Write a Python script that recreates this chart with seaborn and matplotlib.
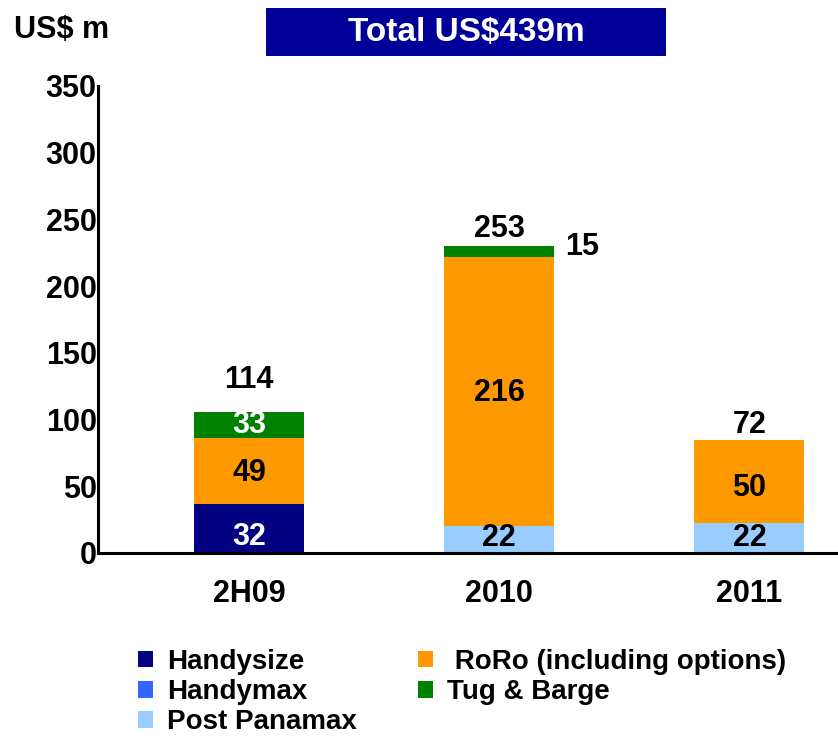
import numpy as np
import matplotlib
matplotlib.use('Agg')
import matplotlib.pyplot as plt
from matplotlib.patches import Patch, Rectangle
import seaborn as sns

# ── data (bar heights as drawn, labels as printed) ─────────────────────────
periods = ['2H09', '2010', '2011']
series = ['Handysize', 'Handymax', 'Post Panamax', ' RoRo (including options)', 'Tug & Barge']
colors = ['#000080', '#3366FF', '#99CCFF', '#FF9900', '#008000']

handysize = [37, 0, 0]
handymax = [0, 0, 0]
post_panamax = [0, 20, 22.5]
roro = [49, 202, 62]
tug_barge = [20, 8, 0]

handysize_lbl = ['32', '', '']
post_panamax_lbl = ['', '22', '22']
roro_lbl = ['49', '216', '50']
tug_barge_lbl = ['33', '', '']
total_lbl = ['114', '253', '72']
total = 'Total US$439m'

sns.set_theme(style='white')
plt.rcParams['font.family'] = ['Liberation Sans', 'DejaVu Sans']
plt.rcParams['font.weight'] = 'bold'
plt.rcParams['text.color'] = 'black'
plt.rcParams['xtick.color'] = 'black'
plt.rcParams['ytick.color'] = 'black'

fig = plt.figure(figsize=(8.38, 7.38), dpi=100)
ax = fig.add_axes([0.117, 0.2507, 0.883, 0.6328])

stack = [handysize, handymax, post_panamax, roro, tug_barge]
bottom = np.zeros(len(periods))
for vals, col in zip(stack, colors):
    sns.barplot(x=periods, y=vals, bottom=bottom, color=col, width=0.44,
                saturation=1, ax=ax, linewidth=0)
    bottom = bottom + np.array(vals)

ax.set_xlim(-0.604, 2.354)
ax.set_ylim(0, 350)
ax.set_yticks(range(0, 351, 50))
ax.tick_params(axis='both', length=0, labelsize=22)
ax.tick_params(axis='y', pad=1)
ax.tick_params(axis='x', pad=19)
for lab in ax.get_xticklabels() + ax.get_yticklabels():
    lab.set_fontweight('bold')
for side in ['top', 'right']:
    ax.spines[side].set_visible(False)
for side in ['left', 'bottom']:
    ax.spines[side].set_linewidth(2.2)
    ax.spines[side].set_color('black')

# segment labels (y positions tuned to the reference)
fs = 22
seg_y = {'hs': [12, 0, 0], 'pp': [0, 11, 11], 'ro': [60, 120, 49], 'tb': [96, 0, 0]}
for i in range(len(periods)):
    if handysize_lbl[i]:
        ax.text(i, seg_y['hs'][i], handysize_lbl[i], ha='center', va='center',
                color='white', fontsize=fs, fontweight='bold')
    if post_panamax_lbl[i]:
        ax.text(i, seg_y['pp'][i], post_panamax_lbl[i], ha='center', va='center',
                color='black', fontsize=fs, fontweight='bold')
    if roro_lbl[i]:
        ax.text(i, seg_y['ro'][i], roro_lbl[i], ha='center', va='center',
                color='black', fontsize=fs, fontweight='bold')
    if tug_barge_lbl[i]:
        ax.text(i, seg_y['tb'][i], tug_barge_lbl[i], ha='center', va='center',
                color='white', fontsize=fs, fontweight='bold')

tot_y = [130, 243, 96]
for i, t in enumerate(total_lbl):
    ax.text(i, tot_y[i], t, ha='center', va='center', fontsize=fs, fontweight='bold')
# 2010 tug & barge value sits to the right of the bar
ax.text(1.33, 229, '15', ha='center', va='center', fontsize=fs, fontweight='bold')

# unit label and total box
fig.text(14 / 838, 1 - 30 / 738, 'US$ m', ha='left', va='center', fontsize=22,
         fontweight='bold')
fig.patches.append(Rectangle((266 / 838, 1 - 56 / 738), 400 / 838, 48 / 738,
                             transform=fig.transFigure, facecolor='#000099',
                             edgecolor='none'))
fig.text(466 / 838, 1 - 33 / 738, total, ha='center', va='center', fontsize=24,
         fontweight='bold', color='white')

# legend
handles = [Patch(facecolor=c, edgecolor='none', label=s) for s, c in zip(series, colors)]
fig.legend(handles=handles, ncol=2, loc='upper left',
           bbox_to_anchor=(138 / 838, 1 - 649 / 738), borderpad=0, borderaxespad=0,
           frameon=False, handlelength=0.54, handleheight=0.54,
           handletextpad=0.5, labelspacing=0.15, columnspacing=2.2,
           prop={'weight': 'bold', 'size': 20})

plt.savefig('out.png', dpi=100)
